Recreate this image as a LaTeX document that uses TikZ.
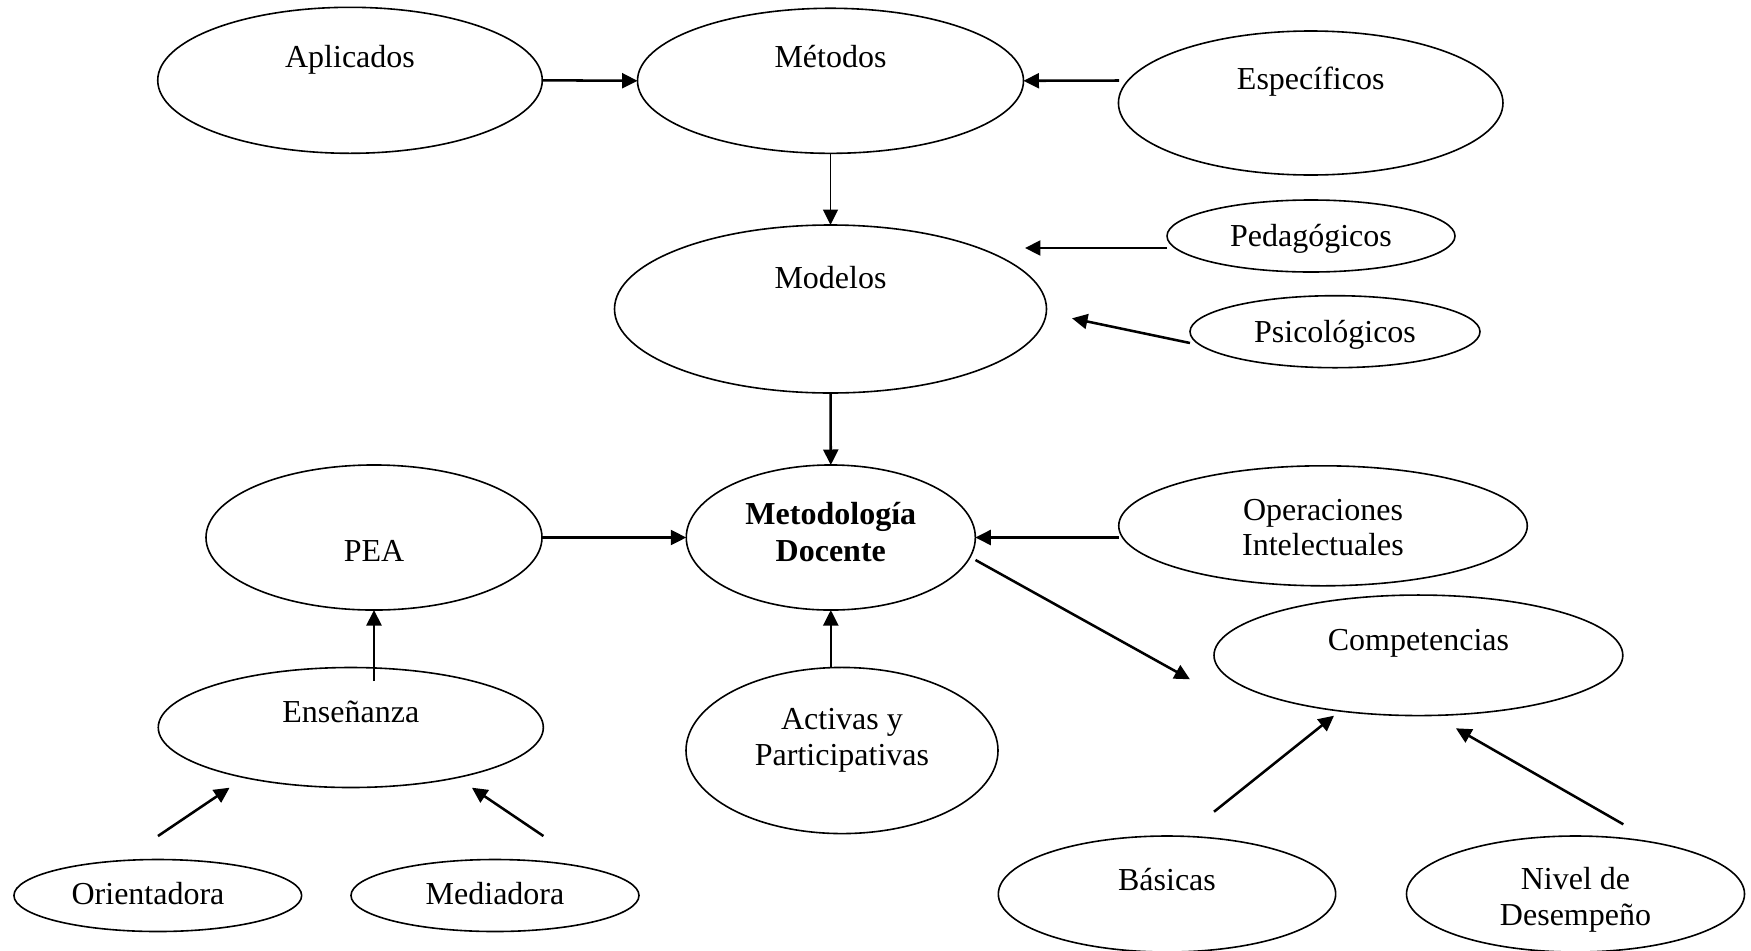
\documentclass[tikz,border=0pt]{standalone}
\usepackage{fontspec}
\setmainfont{Liberation Serif}
\usetikzlibrary{shapes.geometric,arrows.meta}
\begin{document}
\begin{tikzpicture}[x=0.375pt,y=-0.375pt,
  ell/.style={draw,ellipse,line width=0.6pt,inner sep=0pt,outer sep=0pt},
  txt/.style={anchor=base,inner sep=0pt,font=\fontsize{12pt}{13.8pt}\selectfont},
  arr/.style={line width=0.95pt,-{Triangle[length=5.8pt,width=5.6pt]}},
  thinarr/.style={line width=0.65pt,-{Triangle[length=5.8pt,width=5.6pt]}}]
\useasboundingbox (0,0) rectangle (1751,950);

% ellipses
\node[ell,minimum width=144.2pt,minimum height=54.75pt] (apl) at (350,80.3) {};
\node[ell,minimum width=144.75pt,minimum height=54.4pt] (met) at (830.5,80.8) {};
\node[ell,minimum width=144.2pt,minimum height=54pt] (esp) at (1310.7,103) {};
\node[ell,minimum width=162pt,minimum height=63pt] (mod) at (830.5,309) {};
\node[ell,minimum width=108pt,minimum height=27pt] (ped) at (1311,236) {};
\node[ell,minimum width=108.75pt,minimum height=27pt] (psi) at (1335,331.7) {};
\node[ell,minimum width=126pt,minimum height=54.4pt] (pea) at (374,537.5) {};
\node[ell,minimum width=108.4pt,minimum height=54.4pt] (md) at (830.8,537.5) {};
\node[ell,minimum width=153.2pt,minimum height=45pt] (op) at (1323,525.8) {};
\node[ell,minimum width=153.3pt,minimum height=45.2pt] (comp) at (1418.4,655.3) {};
\node[ell,minimum width=144.4pt,minimum height=45pt] (ens) at (350.8,727.5) {};
\node[ell,minimum width=117pt,minimum height=62.3pt] (act) at (842,750.5) {};
\node[ell,minimum width=107.9pt,minimum height=27pt] (ori) at (157.8,895.5) {};
\node[ell,minimum width=108pt,minimum height=27pt] (med) at (495,895.5) {};
\node[ell,minimum width=126.5pt,minimum height=43.5pt] (bas) at (1167,894) {};
\node[ell,minimum width=126.75pt,minimum height=43.5pt] (niv) at (1575.5,894) {};

% texts
\node[txt] (aplT) at (350,67) {Aplicados};
\node[txt] (metT) at (830.5,67) {Métodos};
\node[txt] (espT) at (1310.7,89.5) {Específicos};
\node[txt] (modT) at (830.5,288) {Modelos};
\node[txt] (pedT) at (1311,246) {Pedagógicos};
\node[txt] (psiT) at (1335,342.5) {Psicológicos};
\node[txt] (peaT) at (374,561) {PEA};
\node[txt,font=\fontsize{12pt}{13.8pt}\selectfont\bfseries] (mdT1) at (830.8,524.5) {Metodología};
\node[txt,font=\fontsize{12pt}{13.8pt}\selectfont\bfseries] (mdT2) at (830.8,561) {Docente};
\node[txt] (opT1) at (1323,520) {Operaciones};
\node[txt] (opT2) at (1323,555) {Intelectuales};
\node[txt] (compT) at (1418.4,650) {Competencias};
\node[txt] (ensT) at (350.8,722.5) {Enseñanza};
\node[txt] (actT1) at (842,729) {Activas y};
\node[txt] (actT2) at (842,765.5) {Participativas};
\node[txt] (oriT) at (148,904.5) {Orientadora};
\node[txt] (medT) at (495,904.5) {Mediadora};
\node[txt] (basT) at (1167,890) {Básicas};
\node[txt] (nivT1) at (1575.5,889) {Nivel de};
\node[txt] (nivT2) at (1575.5,925.5) {Desempeño};

% connector end points
\coordinate (espA) at (1119,80.5);
\coordinate (pedA) at (1167,248);
\coordinate (modP) at (1025,248);
\coordinate (psiA) at (1190,343);
\coordinate (modQ) at (1072,318.3);
\coordinate (opA) at (1118.6,537.5);
\coordinate (mdA) at (975.5,560);
\coordinate (compA) at (1190,679.3);
\coordinate (actA) at (830.8,668);
\coordinate (ensA) at (374,681);
\coordinate (oriA) at (158,836);
\coordinate (ensP) at (229.6,787.7);
\coordinate (medA) at (543.4,836);
\coordinate (ensQ) at (471.9,787.7);
\coordinate (basA) at (1214,811.7);
\coordinate (compP) at (1334,715.7);
\coordinate (nivA) at (1623.3,824.3);
\coordinate (compQ) at (1455.9,728.3);

% connectors
\draw[arr] (apl.east) -- (met.west);
\draw[arr] (espA) -- (met.east);
\draw[thinarr] (met.south) -- (mod.north);
\draw[arr] (pedA) -- (modP);
\draw[arr] (psiA) -- (modQ);
\draw[arr] (mod.south) -- (md.north);
\draw[arr] (pea.east) -- (md.west);
\draw[arr] (opA) -- (md.east);
\draw[arr] (mdA) -- (compA);
\draw[arr] (actA) -- (md.south);
\draw[arr] (ensA) -- (pea.south);
\draw[arr] (oriA) -- (ensP);
\draw[arr] (medA) -- (ensQ);
\draw[arr] (basA) -- (compP);
\draw[arr] (nivA) -- (compQ);
\end{tikzpicture}
\end{document}
